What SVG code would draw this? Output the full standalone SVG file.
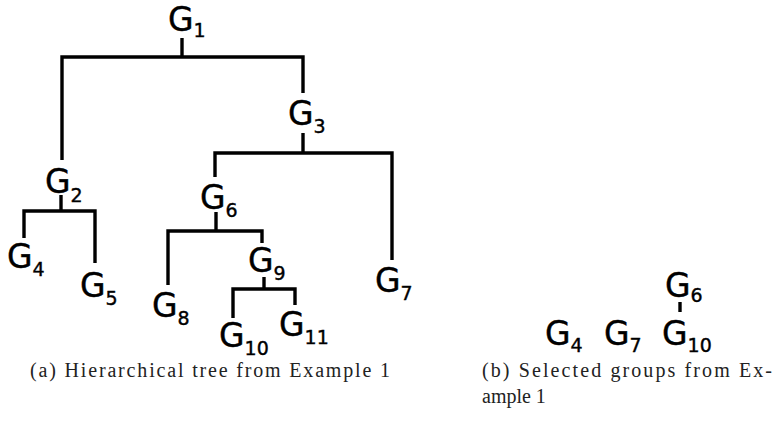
<svg xmlns="http://www.w3.org/2000/svg" width="782" height="430" viewBox="0 0 782 430">
<style>
.lbl{font-family:"DejaVu Sans",sans-serif;font-size:33px;fill:#000;stroke:#000;stroke-width:0.4}
.sub{font-size:19px}
.cap{font-family:"Liberation Serif",serif;font-size:20px;fill:#222}
.edge{fill:none;stroke:#000;stroke-width:3.4;stroke-linejoin:miter;stroke-linecap:butt}
</style>
<rect width="782" height="430" fill="#fff"/>
<g id="connectors">
<path class="edge" d="M182,38 V57"/>
<path class="edge" d="M62,160 V57 H303 V93"/>
<path class="edge" d="M303,133 V153"/>
<path class="edge" d="M215,177 V153 H392 V260"/>
<path class="edge" d="M61,195 V211"/>
<path class="edge" d="M24,238 V211 H95 V263"/>
<path class="edge" d="M216,212 V231"/>
<path class="edge" d="M168,285 V231 H262 V243"/>
<path class="edge" d="M264,277 V289"/>
<path class="edge" d="M233,318 V289 H295 V305"/>
<path class="edge" d="M680,302 V312"/>
</g>
<g id="G1"><text class="lbl" x="168" y="31">G<tspan class="sub" dy="6">1</tspan></text></g>
<g id="G3"><text class="lbl" x="288" y="125">G<tspan class="sub" dy="8">3</tspan></text></g>
<g id="G2"><text class="lbl" x="45" y="193">G<tspan class="sub" dy="9">2</tspan></text></g>
<g id="G4"><text class="lbl" x="7" y="268">G<tspan class="sub" dy="8">4</tspan></text></g>
<g id="G5"><text class="lbl" x="80" y="297">G<tspan class="sub" dy="8">5</tspan></text></g>
<g id="G6"><text class="lbl" x="200" y="209">G<tspan class="sub" dy="8">6</tspan></text></g>
<g id="G7"><text class="lbl" x="375" y="292">G<tspan class="sub" dy="8">7</tspan></text></g>
<g id="G8"><text class="lbl" x="152" y="317">G<tspan class="sub" dy="8">8</tspan></text></g>
<g id="G9"><text class="lbl" x="248" y="272">G<tspan class="sub" dy="8">9</tspan></text></g>
<g id="G10"><text class="lbl" x="219" y="347">G<tspan class="sub" dy="8">10</tspan></text></g>
<g id="G11"><text class="lbl" x="279" y="336">G<tspan class="sub" dy="8">11</tspan></text></g>
<g id="b-G6"><text class="lbl" x="665" y="297">G<tspan class="sub" dy="5">6</tspan></text></g>
<g id="b-G4"><text class="lbl" x="545" y="345">G<tspan class="sub" dy="7">4</tspan></text></g>
<g id="b-G7"><text class="lbl" x="604" y="345">G<tspan class="sub" dy="7">7</tspan></text></g>
<g id="b-G10"><text class="lbl" x="662" y="345">G<tspan class="sub" dy="7">10</tspan></text></g>
<g id="captions">
<text class="cap" x="30" y="377" textLength="360" lengthAdjust="spacing">(a) Hierarchical tree from Example 1</text>
<text class="cap" x="482" y="377" textLength="290" lengthAdjust="spacing">(b) Selected groups from Ex-</text>
<text class="cap" x="482" y="403">ample 1</text>
</g>
</svg>
